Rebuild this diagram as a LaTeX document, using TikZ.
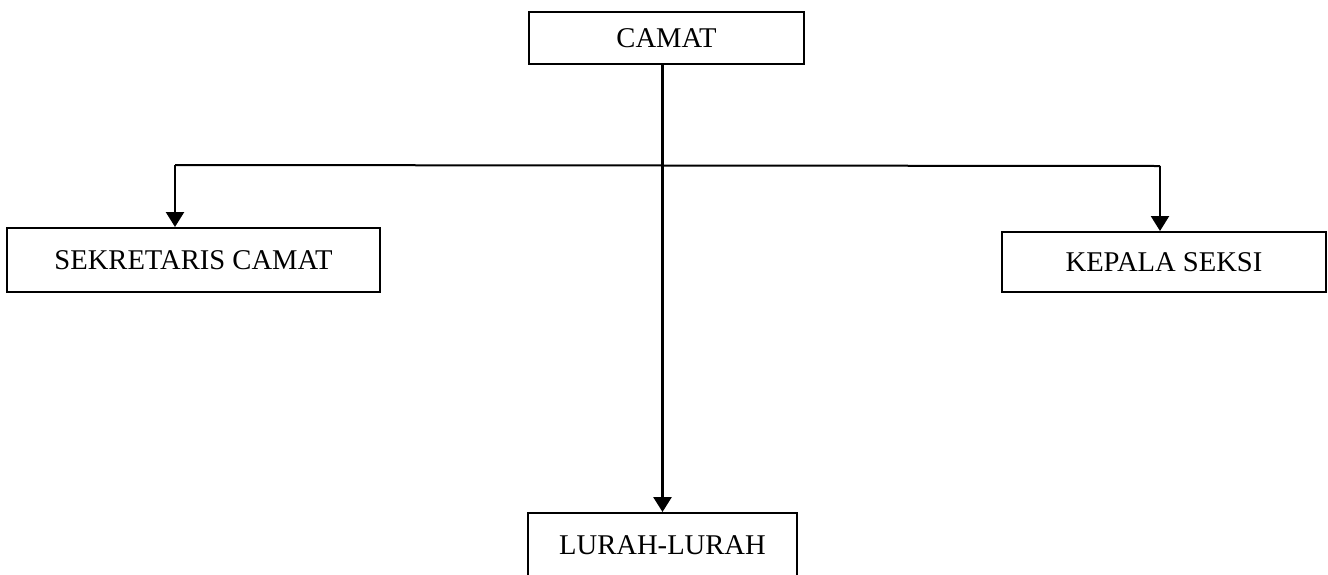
\documentclass[tikz,border=0pt]{standalone}
\usepackage{fontspec}
\setmainfont{Liberation Serif}
\usetikzlibrary{arrows.meta}
\begin{document}
\begin{tikzpicture}[x=0.5pt,y=-0.5pt,
  box/.style={draw=black,line width=1pt,inner sep=0pt,font=\fontsize{14.3}{16}\selectfont},
  conn/.style={line width=1.2pt},
  arr/.style={conn,-{Triangle[length=7.5pt,width=9pt]}}]
\useasboundingbox (0,0) rectangle (1328,574);
\fill[white] (0,0) rectangle (1328,574);
\node[box,minimum width=137.5pt,minimum height=26pt] (camat) at (666.5,38) {CAMAT};
\node[box,minimum width=186.5pt,minimum height=32pt] (sek) at (193.5,260) {SEKRETARIS CAMAT};
\node[box,minimum width=162pt,minimum height=30pt] (kep) at (1164,262) {KEPALA SEKSI};
\node[box,minimum width=134.5pt,minimum height=32pt] (lurah) at (662.5,545) {LURAH-LURAH};
\coordinate (hl) at (175,165);
\coordinate (hr) at (1160,166);
\draw[conn,line width=1pt] (hl) -- (hr);
\draw[arr] (hl) -- (hl |- sek.north);
\draw[arr] (hr) -- (hr |- kep.north);
\draw[arr,line width=1.4pt] (camat.south -| lurah.north) -- (lurah.north);
\end{tikzpicture}
\end{document}
